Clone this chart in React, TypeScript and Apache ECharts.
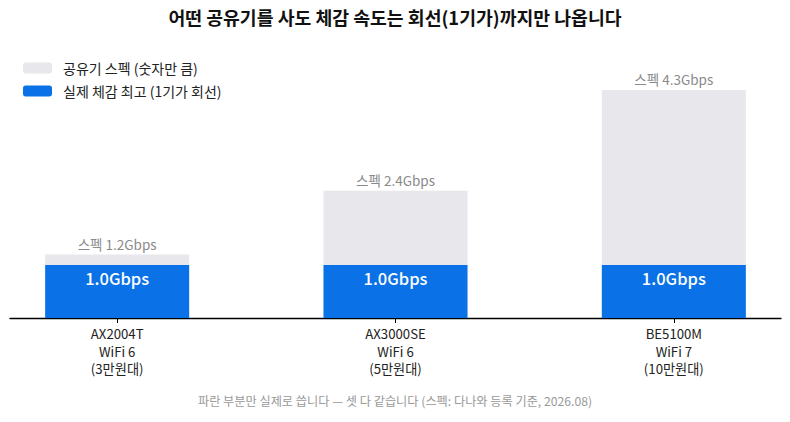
import { useEffect, useRef } from "react";
import * as echarts from "echarts";

const categories = ["AX2004T\nWiFi 6\n(3만원대)", "AX3000SE\nWiFi 6\n(5만원대)", "BE5100M\nWiFi 7\n(10만원대)"];
const specValues = [1.2, 2.4, 4.3];
const realValues = [1.0, 1.0, 1.0];
const positions = [0, 1, 2];

const FONT = "'Noto Sans CJK KR', 'Noto Sans', sans-serif";

const App = () => {
  const chartRef = useRef(null);

  useEffect(() => {
    document.body.style.margin = "0";
    const chart = echarts.init(chartRef.current, null, { renderer: "svg" });

    const option: any = {
      animation: false,
      textStyle: { fontFamily: FONT },
      title: {
        text: "어떤 공유기를 사도 체감 속도는 회선(1기가)까지만 나옵니다",
        left: "center",
        top: 3,
        textStyle: { fontSize: 18.3, fontWeight: "bold", color: "#111", fontFamily: FONT },
      },
      legend: {
        orient: "vertical",
        left: 18,
        top: 56,
        itemWidth: 29,
        itemHeight: 11,
        itemGap: 9,
        textStyle: { fontSize: 14, color: "#222", fontFamily: FONT, padding: [0, 0, 0, 6] },
        data: ["공유기 스펙 (숫자만 큼)", "실제 체감 최고 (1기가 회선)"],
      },
      grid: { left: 10, right: 9, top: 53, bottom: 104, containLabel: false },
      xAxis: {
        type: "value",
        min: -0.385,
        max: 2.385,
        splitLine: { show: false },
        axisLine: { show: true, lineStyle: { color: "#000", width: 1.3 } },
        axisTick: { show: true, customValues: positions, length: 5, lineStyle: { color: "#000" } },
        axisLabel: {
          customValues: positions,
          formatter: (v) => categories[Math.round(v)],
          color: "#222",
          fontSize: 13.2,
          lineHeight: 17.5,
          margin: 7,
          fontFamily: FONT,
        },
      },
      yAxis: {
        type: "value",
        min: 0,
        max: 5,
        show: false,
      },
      series: [
        {
          name: "공유기 스펙 (숫자만 큼)",
          type: "bar",
          barWidth: 144,
          barGap: "-100%",
          itemStyle: { color: "#E8E8EC" },
          data: positions.map((p, i) => [p, specValues[i]]),
          label: {
            show: true,
            position: "top",
            distance: 4,
            formatter: (p) => `스펙 ${p.value[1].toFixed(1)}Gbps`,
            color: "#8a8a8a",
            fontSize: 13.5,
            fontFamily: FONT,
          },
        },
        {
          name: "실제 체감 최고 (1기가 회선)",
          type: "bar",
          barWidth: 144,
          barGap: "-100%",
          itemStyle: { color: "#0A72E6" },
          data: positions.map((p, i) => [p, realValues[i]]),
          label: {
            show: true,
            position: "insideTop",
            distance: 5,
            formatter: (p) => `${p.value[1].toFixed(1)}Gbps`,
            color: "#fff",
            fontSize: 16.5,
            fontWeight: 500,
            fontFamily: FONT,
          },
        },
      ],
      graphic: [
        {
          type: "text",
          left: "center",
          top: 395,
          style: {
            text: "파란 부분만 실제로 씁니다 — 셋 다 같습니다 (스펙: 다나와 등록 기준, 2026.08)",
            fill: "#999",
            fontSize: 12.2,
            fontFamily: FONT,
          },
        },
      ],
    };

    chart.setOption(option);

    return () => {
      chart.dispose();
    };
  }, []);

  return <div ref={chartRef} style={{ width: "790px", height: "422px" }} />;
};

export default App;
